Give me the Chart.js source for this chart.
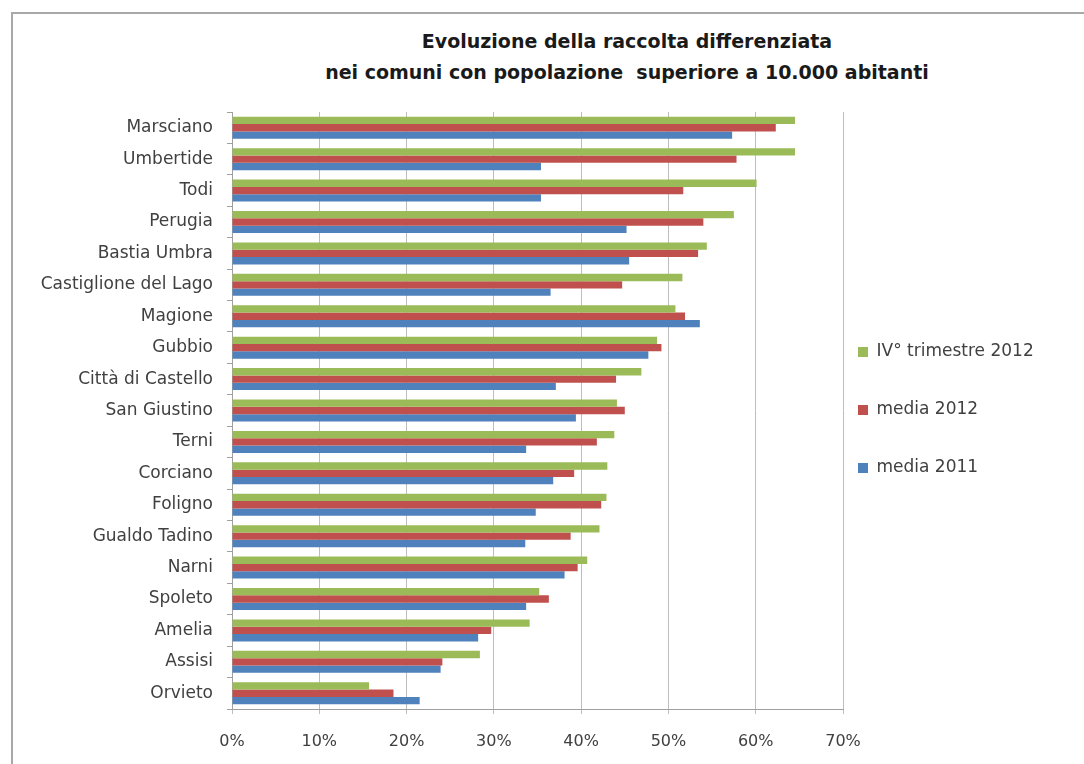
<!DOCTYPE html>
<html lang="it">
<head>
<meta charset="utf-8">
<title>Evoluzione della raccolta differenziata</title>
<script src="https://cdn.jsdelivr.net/npm/chart.js@4.4.1/dist/chart.umd.min.js"></script>
<style>
    html, body {
        margin: 0;
        padding: 0;
        width: 1084px;
        height: 764px;
        overflow: hidden;
        background: #fff;
    }
    .frame {
        position: absolute;
        left: 11px;
        top: 12px;
        width: 1200px;
        height: 800px;
        border-left: 2px solid #a8a8a8;
        border-top: 2px solid #a8a8a8;
    }
    .chart-title {
        position: absolute;
        left: 277px;
        top: 26px;
        width: 700px;
        text-align: center;
        font-family: "DejaVu Sans", sans-serif;
        font-weight: bold;
        font-size: 19px;
        line-height: 31px;
        color: #1a1a1a;
        white-space: nowrap;
    }
    .chart-box {
        position: absolute;
        left: 11px;
        top: 12px;
        width: 1073px;
        height: 752px;
    }
</style>
</head>
<body>
<div class="frame"></div>
<div class="chart-title">Evoluzione della raccolta differenziata<br>nei comuni con popolazione&nbsp; superiore a 10.000 abitanti</div>
<div class="chart-box"><canvas id="raccoltaChart"></canvas></div>

<script>
// data (percent)
const comuni = [
    'Marsciano', 'Umbertide', 'Todi', 'Perugia', 'Bastia Umbra',
    'Castiglione del Lago', 'Magione', 'Gubbio', 'Città di Castello',
    'San Giustino', 'Terni', 'Corciano', 'Foligno', 'Gualdo Tadino',
    'Narni', 'Spoleto', 'Amelia', 'Assisi', 'Orvieto'
];
const trimestre2012 = [64.5, 64.5, 60.1, 57.5, 54.4, 51.6, 50.8, 48.7, 46.9, 44.1, 43.8, 43.0, 42.9, 42.1, 40.7, 35.2, 34.1, 28.4, 15.7];
const media2012 = [62.3, 57.8, 51.7, 54.0, 53.4, 44.7, 51.9, 49.2, 44.0, 45.0, 41.8, 39.2, 42.3, 38.8, 39.6, 36.3, 29.7, 24.1, 18.5];
const media2011 = [57.3, 35.4, 35.4, 45.2, 45.5, 36.5, 53.6, 47.7, 37.1, 39.4, 33.7, 36.8, 34.8, 33.6, 38.1, 33.7, 28.2, 23.9, 21.5];
const seriesNames = ['IV° trimestre 2012', 'media 2012', 'media 2011'];
const xTicks = [0, 10, 20, 30, 40, 50, 60, 70];

document.addEventListener('DOMContentLoaded', () => {

    const textColor = '#404040';
    const gridColor = '#bdbdbd';
    const axisColor = '#a0a0a0';
    const fontFamily = '"DejaVu Sans", sans-serif';

    Chart.defaults.font.family = fontFamily;

    const canvas = document.getElementById('raccoltaChart');
    const ctx = canvas.getContext('2d');

    // legend sits right of the plot; size the right padding so the plot ends at 70% = x 843
    const legendFontSize = 17;
    const legendPad = 15;
    const legendBox = 10;
    ctx.font = `${legendFontSize}px ${fontFamily}`;
    const longest = Math.max(...seriesNames.map(s => ctx.measureText(s).width));
    const legendWidth = legendPad + legendBox + legendFontSize / 2 + longest + 10;
    const plotRight = 843 - 11;
    const rightPad = 1073 - plotRight - legendWidth;

    const raccoltaChart = new Chart(ctx, {
        type: 'bar',
        data: {
            labels: comuni,
            datasets: [
                {
                    label: seriesNames[0],
                    data: trimestre2012,
                    backgroundColor: '#9bbb59'
                },
                {
                    label: seriesNames[1],
                    data: media2012,
                    backgroundColor: '#c0504d'
                },
                {
                    label: seriesNames[2],
                    data: media2011,
                    backgroundColor: '#4f81bd'
                }
            ]
        },
        options: {
            indexAxis: 'y',
            responsive: true,
            maintainAspectRatio: false,
            animation: false,
            categoryPercentage: 0.7,
            barPercentage: 1.0,
            layout: {
                padding: { top: 100, right: rightPad, bottom: 10, left: 0 }
            },
            plugins: {
                title: { display: false },
                tooltip: { enabled: false },
                legend: {
                    position: 'right',
                    fullSize: false,
                    // empty title only nudges the item column down a little
                    title: { display: true, text: '', padding: 0, font: { size: 10, lineHeight: '25px' } },
                    labels: {
                        color: textColor,
                        boxWidth: legendBox,
                        boxHeight: legendBox,
                        padding: legendPad,
                        font: { size: legendFontSize, lineHeight: '43px' },
                        // one-line arrays so the row height follows lineHeight (wide spacing like Excel)
                        generateLabels: (chart) =>
                            Chart.defaults.plugins.legend.labels.generateLabels(chart)
                                .map(item => ({ ...item, text: [item.text] }))
                    }
                }
            },
            scales: {
                x: {
                    min: xTicks[0],
                    max: xTicks[xTicks.length - 1],
                    afterBuildTicks: (scale) => {
                        scale.ticks = xTicks.map(v => ({ value: v }));
                    },
                    afterFit: (scale) => { scale.height = 45; },
                    ticks: {
                        color: textColor,
                        font: { size: 16 },
                        padding: 18,
                        callback: (value) => value + '%'
                    },
                    grid: { color: gridColor, tickLength: 5 },
                    border: { color: axisColor }
                },
                y: {
                    afterFit: (scale) => { scale.width = 221; },
                    ticks: {
                        color: textColor,
                        font: { size: 17 },
                        padding: 14
                    },
                    grid: { drawOnChartArea: false, tickLength: 5, color: axisColor },
                    border: { color: axisColor }
                }
            }
        }
    });

});
</script>
</body>
</html>
